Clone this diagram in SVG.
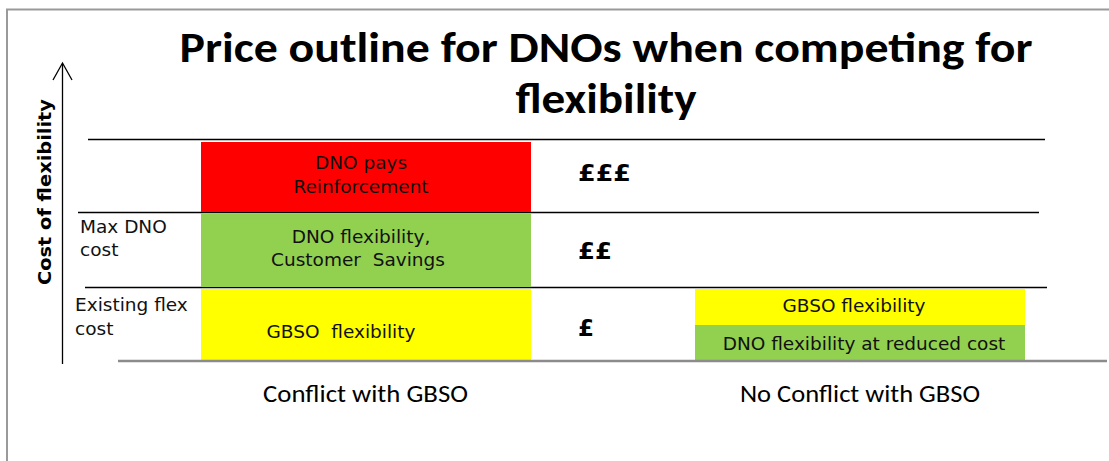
<svg xmlns="http://www.w3.org/2000/svg" width="1109" height="461" viewBox="0 0 1109 461">
  <style>
    .frame { fill: none; stroke: #9a9a9a; stroke-width: 2; }
    .hline { stroke: #000; stroke-width: 1.6; }
    .base { stroke: #8c8c8c; stroke-width: 2.4; }
    .axis { stroke: #000; stroke-width: 1.3; fill: none; }
    .title { font-family: Carlito, "Liberation Sans Narrow", "Liberation Sans", sans-serif; font-weight: bold; font-size: 43px; fill: #000; text-anchor: middle; }
    .v { font-family: "DejaVu Sans", Verdana, sans-serif; font-size: 18.5px; fill: #111; }
    .c { text-anchor: middle; }
    .pound { font-family: "DejaVu Sans", Verdana, sans-serif; font-weight: bold; font-size: 23px; fill: #000; }
    .cat { font-family: Carlito, "Liberation Sans Narrow", "Liberation Sans", sans-serif; font-size: 24px; fill: #000; text-anchor: middle; }
    .ylab { font-family: "DejaVu Sans", Verdana, sans-serif; font-weight: bold; font-size: 18px; fill: #000; text-anchor: middle; }
  </style>
  <rect width="1109" height="461" fill="#fff"/>
  <rect class="frame" x="7" y="9.5" width="1120" height="470"/>

  <g id="title">
    <text class="title" x="606" y="62" textLength="853" lengthAdjust="spacingAndGlyphs">Price outline for DNOs when competing for</text>
    <text class="title" x="606" y="113" textLength="181" lengthAdjust="spacingAndGlyphs">flexibility</text>
  </g>

  <g id="y-axis-label">
    <text class="ylab" transform="translate(51,192) rotate(-90)" textLength="186" lengthAdjust="spacingAndGlyphs">Cost of flexibility</text>
  </g>

  <g id="connectors">
    <line class="axis" x1="62.5" y1="64" x2="62.5" y2="364"/>
    <polyline class="axis" points="53,80 62.5,63 72,80"/>
    <line class="hline" x1="88" y1="139.5" x2="1045" y2="139.5"/>
    <line class="hline" x1="78" y1="212.5" x2="1039" y2="212.5"/>
    <line class="hline" x1="85" y1="287.5" x2="1047" y2="287.5"/>
  </g>

  <g id="node-reinforcement">
    <rect x="201" y="142" width="330" height="70" fill="#ff0000"/>
    <text class="v c" x="361" y="169">DNO pays</text>
    <text class="v c" x="361" y="193">Reinforcement</text>
  </g>

  <g id="node-dno-flex">
    <rect x="201" y="213.5" width="330" height="73.5" fill="#92d050"/>
    <text class="v c" x="361" y="243">DNO flexibility,</text>
    <text class="v c" x="358" y="266" xml:space="preserve">Customer  Savings</text>
  </g>

  <g id="node-gbso-conflict">
    <rect x="201" y="289" width="330" height="71" fill="#ffff00"/>
    <text class="v c" x="341" y="338" xml:space="preserve">GBSO  flexibility</text>
  </g>

  <g id="node-gbso-noconflict">
    <rect x="695" y="289" width="330" height="36" fill="#ffff00"/>
    <text class="v c" x="854" y="312">GBSO flexibility</text>
  </g>

  <g id="node-dno-reduced">
    <rect x="695" y="325" width="330" height="35" fill="#92d050"/>
    <text class="v c" x="864" y="350">DNO flexibility at reduced cost</text>
  </g>

  <g id="base-line">
    <line class="base" x1="118" y1="361" x2="1107" y2="361"/>
  </g>

  <g id="level-labels">
    <text class="v" x="80" y="233">Max DNO</text>
    <text class="v" x="80" y="256">cost</text>
    <text class="v" x="75" y="311">Existing flex</text>
    <text class="v" x="75" y="335">cost</text>
  </g>

  <g id="price-markers">
    <text class="pound" x="578" y="181" textLength="53" lengthAdjust="spacingAndGlyphs">£££</text>
    <text class="pound" x="578" y="259" textLength="34" lengthAdjust="spacingAndGlyphs">££</text>
    <text class="pound" x="578" y="336">£</text>
  </g>

  <g id="categories">
    <text class="cat" x="365.5" y="402" textLength="205" lengthAdjust="spacingAndGlyphs">Conflict with GBSO</text>
    <text class="cat" x="860" y="402" textLength="240" lengthAdjust="spacingAndGlyphs">No Conflict with GBSO</text>
  </g>
</svg>
